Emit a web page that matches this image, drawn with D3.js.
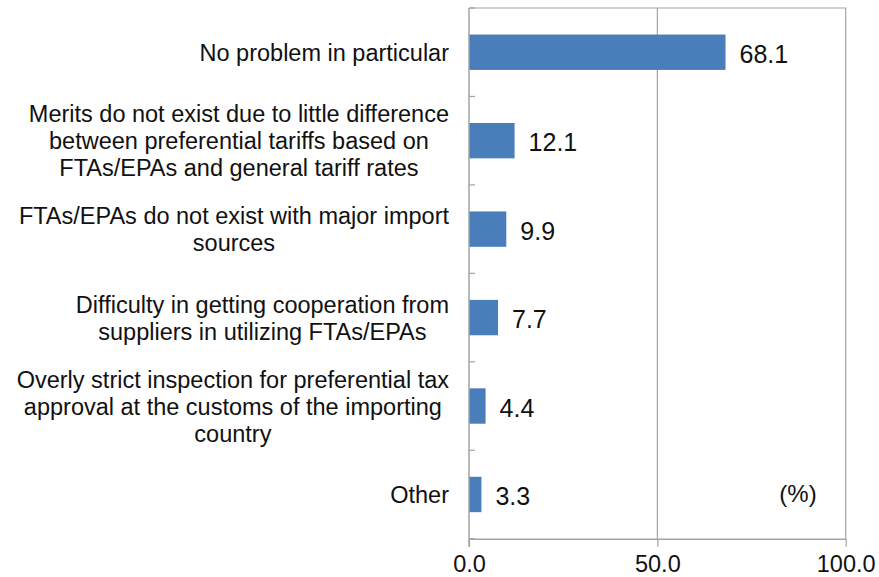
<!DOCTYPE html>
<html>
<head>
<meta charset="utf-8">
<script src="https://cdn.jsdelivr.net/npm/d3@7"></script>
<style>
  html, body { margin: 0; padding: 0; background: #fff; }
  svg { display: block; font-family: "Liberation Sans", Arial, sans-serif; }
</style>
</head>
<body>
<svg id="chart" width="879" height="577"></svg>
<script>
// Reasons reported for not using FTAs/EPAs (multi-line category labels split on "\n")
const categories = [
  "No problem in particular",
  "Merits do not exist due to little difference\nbetween preferential tariffs based on\nFTAs/EPAs and general tariff rates",
  "FTAs/EPAs do not exist with major import\nsources",
  "Difficulty in getting cooperation from\nsuppliers in utilizing FTAs/EPAs",
  "Overly strict inspection for preferential tax\napproval at the customs of the importing\ncountry",
  "Other"
];
const values = [68.1, 12.1, 9.9, 7.7, 4.4, 3.3];
const xTicks = [0, 50, 100];
const unitLabel = "(%)";

const svg = d3.select("#chart");
const plot = { left: 469, right: 845.7, top: 8, bottom: 538.7 };
const gray = "#a3a3a3";

const x = d3.scaleLinear().domain([0, 100]).range([plot.left, plot.right]);
const y = d3.scaleBand().domain(categories)
  .range([plot.top, plot.bottom])
  .paddingInner(0.6).paddingOuter(0.3);

// Plot-area frame (top and right edges)
svg.append("path")
  .attr("d", `M${plot.left},${plot.top}H${plot.right}V${plot.bottom}`)
  .attr("fill", "none").attr("stroke", gray).attr("stroke-width", 1.2);

// Vertical gridline at 50
svg.append("g").selectAll("line")
  .data(xTicks.filter(t => t > 0 && t < 100))
  .join("line")
  .attr("x1", d => x(d)).attr("x2", d => x(d))
  .attr("y1", plot.top).attr("y2", plot.bottom)
  .attr("stroke", gray).attr("stroke-width", 1.2);

// Bars
svg.append("g").selectAll("rect")
  .data(categories)
  .join("rect")
  .attr("x", x(0))
  .attr("y", d => y(d))
  .attr("width", (d, i) => x(values[i]) - x(0))
  .attr("height", y.bandwidth())
  .attr("fill", "#4a7ebb");

// Value labels
svg.append("g").selectAll("text")
  .data(categories)
  .join("text")
  .attr("x", (d, i) => x(values[i]) + 14)
  .attr("y", d => y(d) + y.bandwidth() / 2 + 10.5)
  .attr("font-size", 25)
  .attr("fill", "#111")
  .text((d, i) => values[i].toFixed(1));

// Bottom axis
const xAxis = svg.append("g")
  .attr("transform", `translate(0,${plot.bottom})`)
  .call(d3.axisBottom(x).tickValues(xTicks).tickFormat(d3.format(".1f"))
    .tickSize(8).tickSizeOuter(0).tickPadding(8));
xAxis.select(".domain").attr("stroke", gray).attr("stroke-width", 1.5);
xAxis.selectAll(".tick line").attr("stroke", gray).attr("stroke-width", 1.2);
xAxis.selectAll(".tick text")
  .attr("font-size", 23.5).attr("fill", "#111")
  .attr("dy", null).attr("y", 33)
  .attr("font-family", "Liberation Sans, Arial, sans-serif");

// Left axis line with tick marks at category boundaries
const step = y.step();
const boundaries = categories.map(c => y(c) - step * y.paddingInner() / 2)
  .concat([plot.bottom]);
svg.append("line")
  .attr("x1", plot.left).attr("x2", plot.left)
  .attr("y1", plot.top).attr("y2", plot.bottom + 8)
  .attr("stroke", gray).attr("stroke-width", 1.5);
svg.append("g").selectAll("line")
  .data(boundaries)
  .join("line")
  .attr("x1", plot.left).attr("x2", plot.left + 6)
  .attr("y1", d => d).attr("y2", d => d)
  .attr("stroke", gray).attr("stroke-width", 1.2);

// Category labels: lines centred on each other, block right-aligned to the axis
const lineH = 27;
const labelRight = 449;
const labels = svg.append("g")
  .attr("font-size", 23.5).attr("fill", "#111");
categories.forEach(c => {
  const lines = c.split("\n");
  const g = labels.append("g");
  const cy = y(c) + y.bandwidth() / 2;
  const t = g.append("text").attr("text-anchor", "middle");
  lines.forEach((ln, k) => {
    t.append("tspan")
      .attr("x", 0)
      .attr("y", cy + (k - (lines.length - 1) / 2) * lineH + 8.5)
      .text(ln);
  });
  const w = d3.max(t.selectAll("tspan").nodes(), n => n.getComputedTextLength());
  t.attr("transform", `translate(${labelRight - w / 2},0)`);
});

// Unit label
svg.append("text")
  .attr("x", 798).attr("y", 502)
  .attr("text-anchor", "middle")
  .attr("font-size", 24).attr("fill", "#111")
  .text(unitLabel);
</script>
</body>
</html>
